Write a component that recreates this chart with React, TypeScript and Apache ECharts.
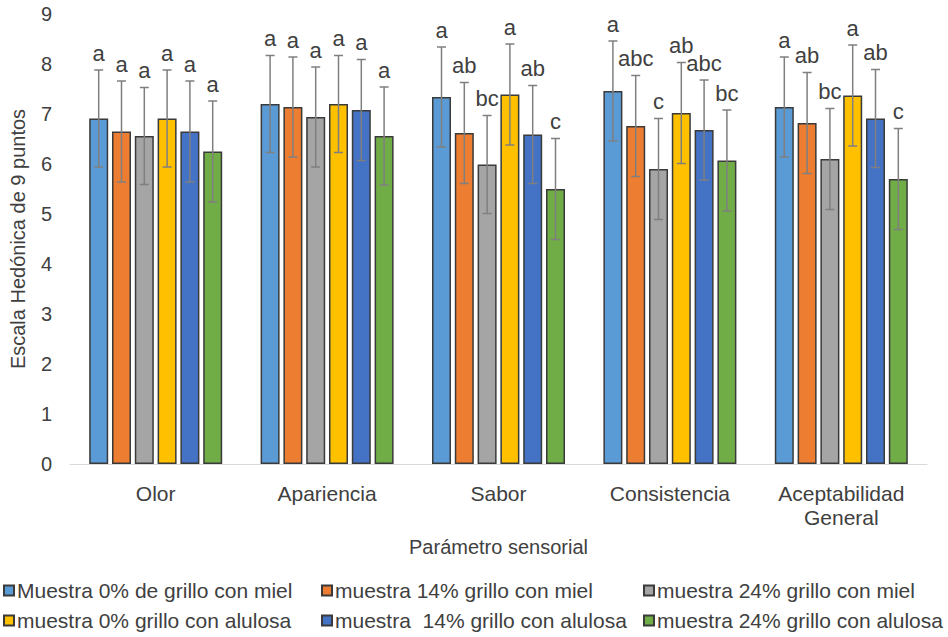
import React, { useEffect, useRef } from "react";
import * as echarts from "echarts";

const categories = ["Olor", "Apariencia", "Sabor", "Consistencia", "Aceptabilidad\nGeneral"];

const seriesNames = [
  "Muestra 0% de grillo con miel",
  "muestra 14% grillo con miel",
  "muestra 24% grillo con miel",
  "muestra 0% grillo con alulosa",
  "muestra  14% grillo con alulosa",
  "muestra 24% grillo con alulosa",
];

const colors = ["#5B9BD5", "#ED7D31", "#A5A5A5", "#FFC000", "#4472C4", "#70AD47"];

// mean scores per sample
const m0Miel = [6.91, 7.2, 7.34, 7.46, 7.14];
const m14Miel = [6.65, 7.14, 6.62, 6.76, 6.82];
const m24Miel = [6.56, 6.94, 5.99, 5.9, 6.1];
const m0Alulosa = [6.91, 7.2, 7.39, 7.02, 7.37];
const m14Alulosa = [6.65, 7.08, 6.59, 6.68, 6.91];
const m24Alulosa = [6.25, 6.56, 5.5, 6.07, 5.7];

// standard deviations
const sd0Miel = [0.97, 0.97, 1.0, 1.0, 1.0];
const sd14Miel = [1.01, 1.0, 1.01, 1.01, 1.01];
const sd24Miel = [0.97, 1.0, 0.98, 1.01, 1.01];
const sd0Alulosa = [0.97, 0.97, 1.01, 1.01, 1.01];
const sd14Alulosa = [1.01, 1.01, 0.98, 1.0, 0.98];
const sd24Alulosa = [1.01, 0.98, 1.01, 1.01, 1.01];

// significance letters
const let0Miel = ["a", "a", "a", "a", "a"];
const let14Miel = ["a", "a", "ab", "abc", "ab"];
const let24Miel = ["a", "a", "bc", "c", "bc"];
const let0Alulosa = ["a", "a", "a", "ab", "a"];
const let14Alulosa = ["a", "a", "ab", "abc", "ab"];
const let24Alulosa = ["a", "a", "c", "bc", "c"];

const yTicks = [0, 1, 2, 3, 4, 5, 6, 7, 8, 9];

const means = [m0Miel, m14Miel, m24Miel, m0Alulosa, m14Alulosa, m24Alulosa];
const sds = [sd0Miel, sd14Miel, sd24Miel, sd0Alulosa, sd14Alulosa, sd24Alulosa];
const letters = [let0Miel, let14Miel, let24Miel, let0Alulosa, let14Alulosa, let24Alulosa];

const FONT = "'Liberation Sans', Arial, sans-serif";
const TEXT = "#404040";
const BAR_W = 19;
const BAR_GAP = 0.2;

export default function App() {
  const ref = useRef<HTMLDivElement>(null);

  useEffect(() => {
    if (!ref.current) return;
    const chart = echarts.init(ref.current, null, { renderer: "svg" });
    const n = seriesNames.length;
    const gapPx = BAR_W * BAR_GAP;
    const total = n * BAR_W + (n - 1) * gapPx;

    const bars = seriesNames.map((name, i) => ({
      name,
      type: "bar",
      data: means[i],
      barWidth: BAR_W,
      barGap: `${BAR_GAP * 100}%`,
      itemStyle: { color: colors[i], borderColor: "#3a3a3a", borderWidth: 1.5 },
      z: 2,
    }));

    const errors = seriesNames.map((name, i) => ({
      name: name + " (DE)",
      type: "custom",
      z: 5,
      silent: true,
      data: means[i].map((v, k) => [k, v, sds[i][k]]),
      renderItem: (params: any, api: any) => {
        const cat = api.value(0);
        const val = api.value(1);
        const sd = api.value(2);
        const offset = -total / 2 + i * (BAR_W + gapPx) + BAR_W / 2;
        const x = api.coord([cat, 0])[0] + offset;
        const yTop = api.coord([cat, val + sd])[1];
        const yBot = api.coord([cat, val - sd])[1];
        const cap = 4.5;
        const lineStyle = { stroke: "#7f7f7f", lineWidth: 1.5 };
        return {
          type: "group",
          children: [
            { type: "line", shape: { x1: x, y1: yTop, x2: x, y2: yBot }, style: lineStyle },
            { type: "line", shape: { x1: x - cap, y1: yTop, x2: x + cap, y2: yTop }, style: lineStyle },
            { type: "line", shape: { x1: x - cap, y1: yBot, x2: x + cap, y2: yBot }, style: lineStyle },
            {
              type: "text",
              x,
              y: yTop - 6,
              style: {
                text: letters[i][params.dataIndex],
                fill: TEXT,
                font: `22px ${FONT}`,
                align: "center",
                verticalAlign: "bottom",
              },
            },
          ],
        };
      },
    }));

    const legendCols = [0, 1, 2].map((c) => ({
      orient: "vertical",
      left: [-2, 316, 638][c],
      top: 575,
      itemWidth: 10,
      itemHeight: 10,
      itemGap: 9,
      icon: "rect",
      data: [seriesNames[c], seriesNames[c + 3]],
      textStyle: { fontFamily: FONT, fontSize: 21, color: TEXT, padding: [0, 0, 0, -2] },
    }));

    chart.setOption({
      animation: false,
      textStyle: { fontFamily: FONT },
      grid: { left: 68, right: 21, top: 14, bottom: 173, containLabel: false },
      legend: legendCols,
      xAxis: {
        type: "category",
        data: categories,
        axisLine: { lineStyle: { color: "#d9d9d9", width: 1 } },
        axisTick: { show: false },
        axisLabel: { fontSize: 21, color: TEXT, margin: 17, lineHeight: 24, fontFamily: FONT },
        name: "Parámetro sensorial",
        nameLocation: "middle",
        nameGap: 73,
        nameTextStyle: { fontSize: 20, color: TEXT, fontFamily: FONT },
      },
      yAxis: {
        type: "value",
        min: yTicks[0],
        max: yTicks[yTicks.length - 1],
        interval: 1,
        splitLine: { show: false },
        axisLine: { show: false },
        axisTick: { show: false },
        axisLabel: { fontSize: 20, color: TEXT, margin: 18, fontFamily: FONT },
        name: "Escala Hedónica de 9 puntos",
        nameLocation: "middle",
        nameGap: 42,
        nameTextStyle: { fontSize: 20, color: TEXT, fontFamily: FONT },
      },
      series: [...bars, ...errors],
    });

    return () => chart.dispose();
  }, []);

  return (
    <div
      ref={ref}
      style={{ position: "fixed", left: 0, top: 0, width: 948, height: 637, background: "#fff" }}
    />
  );
}
